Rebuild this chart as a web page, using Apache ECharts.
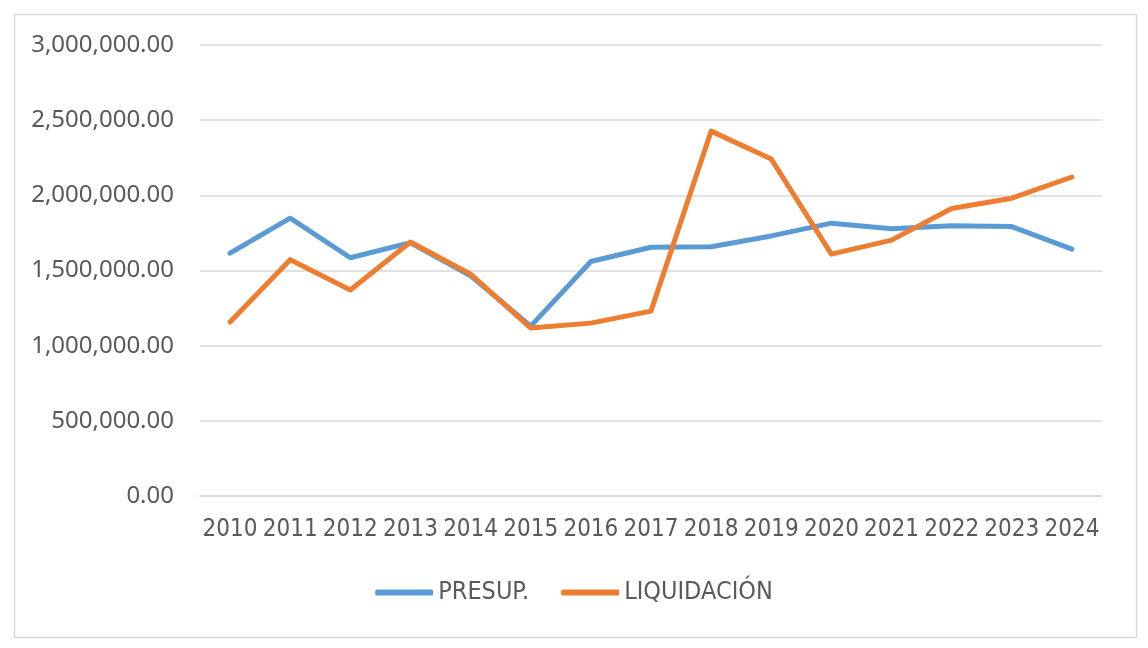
<!DOCTYPE html>
<html>
<head>
<meta charset="utf-8">
<script src="https://cdn.jsdelivr.net/npm/echarts@6/dist/echarts.min.js"></script>
<style>
  html, body { margin: 0; padding: 0; background: #fff; }
  #chart { width: 1148px; height: 648px; }
</style>
</head>
<body>
<div id="chart"></div>
<script>
const years = ['2010', '2011', '2012', '2013', '2014', '2015', '2016', '2017', '2018', '2019', '2020', '2021', '2022', '2023', '2024'];
const presup = [1615000, 1848000, 1585000, 1685000, 1465000, 1130000, 1560000, 1655000, 1658000, 1730000, 1815000, 1778000, 1797000, 1792000, 1642000];
const liquidacion = [1157000, 1572000, 1370000, 1690000, 1476000, 1117000, 1150000, 1230000, 2427000, 2241000, 1609000, 1702000, 1912000, 1981000, 2122000];

const chart = echarts.init(document.getElementById('chart'));

// number with thousands separators and two decimals
function fmt(v) {
    return v.toLocaleString('en-US', { minimumFractionDigits: 2, maximumFractionDigits: 2 });
}

chart.setOption({
    animation: false,
    backgroundColor: '#fff',
    graphic: [{
        type: 'rect',
        left: 12, top: 12,
        shape: { width: 1122, height: 623 },
        style: { fill: 'none', stroke: '#d9d9d9', lineWidth: 1.5 },
        silent: true
    }],
    grid: { left: 200, right: 46, top: 45, bottom: 152 },
    legend: {
        bottom: 38,
        left: 'center',
        icon: 'roundRect',
        itemWidth: 58,
        itemHeight: 6,
        itemGap: 32,
        itemStyle: { borderWidth: 0 },
        textStyle: { fontFamily: 'DejaVu Sans Condensed, Noto Sans', fontSize: 25, color: '#595959' },
        data: ['PRESUP.', 'LIQUIDACIÓN']
    },
    xAxis: {
        type: 'category',
        data: years,
        boundaryGap: true,
        axisLine: { show: true, lineStyle: { color: '#d9d9d9', width: 1.5 } },
        axisTick: { show: false },
        axisLabel: { interval: 0, margin: 22, fontFamily: 'DejaVu Sans Condensed, Noto Sans', fontSize: 24, color: '#595959' }
    },
    yAxis: {
        type: 'value',
        min: 0,
        max: 3000000,
        interval: 500000,
        axisLine: { show: false },
        axisTick: { show: false },
        splitLine: { lineStyle: { color: '#d9d9d9', width: 1.5 } },
        axisLabel: { margin: 26, formatter: fmt, fontFamily: 'Noto Sans', fontSize: 24, color: '#595959' }
    },
    series: [
        {
            name: 'PRESUP.',
            type: 'line',
            data: presup,
            symbol: 'none',
            lineStyle: { width: 5, color: '#5b9bd5', cap: 'round', join: 'round' },
            itemStyle: { color: '#5b9bd5' }
        },
        {
            name: 'LIQUIDACIÓN',
            type: 'line',
            data: liquidacion,
            symbol: 'none',
            lineStyle: { width: 5, color: '#ed7d31', cap: 'round', join: 'round' },
            itemStyle: { color: '#ed7d31' }
        }
    ]
});
</script>
</body>
</html>
